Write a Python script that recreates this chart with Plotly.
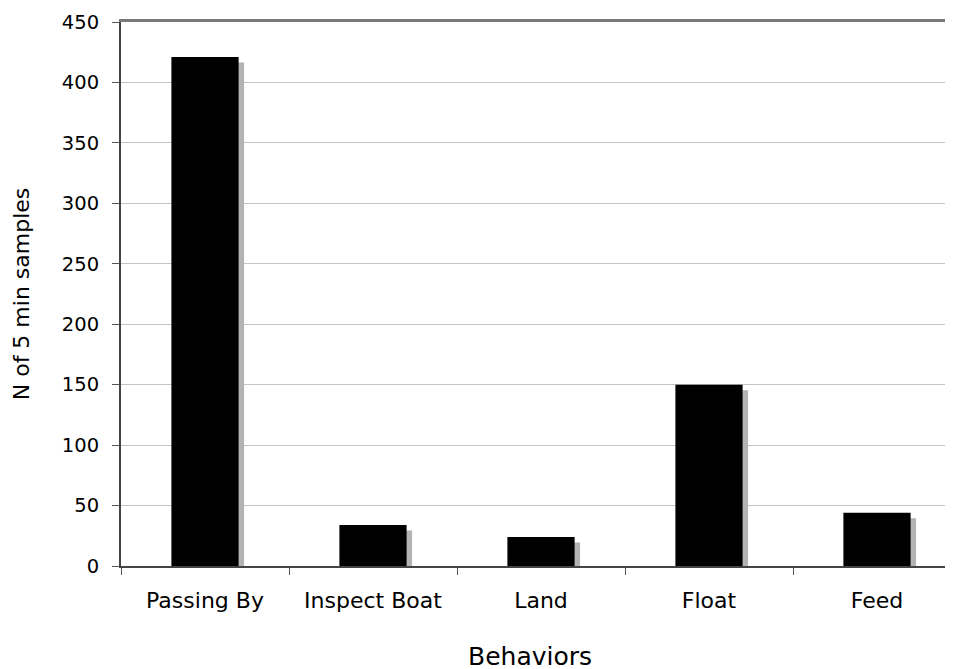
import plotly.graph_objects as go

categories = ["Passing By", "Inspect Boat", "Land", "Float", "Feed"]
values = [421, 34, 24, 150, 44]
y_ticks = [0, 50, 100, 150, 200, 250, 300, 350, 400, 450]

# page is offset by the browser's 8px body margin
W, H = 945, 661
L, R, T, B = 113, 0, 14, 103
cat_px = 168.0
px_per_unit = (H - T - B) / 450.0
shadow_dx = 5.5 / cat_px
shadow_dy = 5.5 / px_per_unit
bar_w = 0.4

fig = go.Figure()
fig.add_trace(go.Bar(
    x=categories, y=[v - shadow_dy for v in values],
    width=bar_w, offset=-bar_w / 2 + shadow_dx,
    marker=dict(color="#b3b3b3", line=dict(width=0)),
    hoverinfo="skip", showlegend=False,
))
fig.add_trace(go.Bar(
    x=categories, y=values,
    width=bar_w, offset=-bar_w / 2,
    marker=dict(color="#000000", line=dict(width=0)),
    showlegend=False,
))

plot_w = W - L - R
x_right = len(categories) - 0.5 - (len(categories) * cat_px - plot_w) / cat_px

fig.update_layout(
    width=W, height=H,
    margin=dict(l=L, r=R, t=T, b=B, pad=0),
    barmode="overlay",
    plot_bgcolor="white", paper_bgcolor="white",
    font=dict(family="DejaVu Sans, Verdana, sans-serif", color="#000000", size=19),
    xaxis=dict(
        type="category", range=[-0.5, x_right],
        showline=True, linecolor="#444444", linewidth=1.5,
        ticks="outside", tickson="boundaries", ticklen=7, tickcolor="#555555",
        showgrid=False,
        tickfont=dict(size=22),
        ticklabelstandoff=14,
    ),
    xaxis2=dict(
        overlaying="x", side="top", matches="x", type="category",
        showline=True, linecolor="#7a7a7a", linewidth=2.5,
        showticklabels=False, ticks="", showgrid=False,
    ),
    yaxis=dict(
        range=[0, 450], tickvals=y_ticks,
        showline=True, linecolor="#444444", linewidth=2,
        ticks="outside", ticklen=7, tickcolor="#555555",
        showgrid=True, gridcolor="#c4c4c4", gridwidth=1,
        zeroline=False,
        tickfont=dict(size=19.5),
        ticklabelstandoff=9,
        title=dict(text="N of 5 min samples", font=dict(size=22), standoff=26),
    ),
    annotations=[dict(
        text="Behaviors", xref="paper", yref="paper",
        x=(530 - 121) / plot_w, y=-(668 - 566) / (H - T - B),
        xanchor="center", yanchor="bottom", showarrow=False,
        font=dict(size=25), yshift=-5,
    )],
)
# invisible trace to activate the top axis line
fig.add_trace(go.Bar(x=categories, y=[None] * len(categories), xaxis="x2",
                     showlegend=False, hoverinfo="skip"))

fig.write_html("out.html")
